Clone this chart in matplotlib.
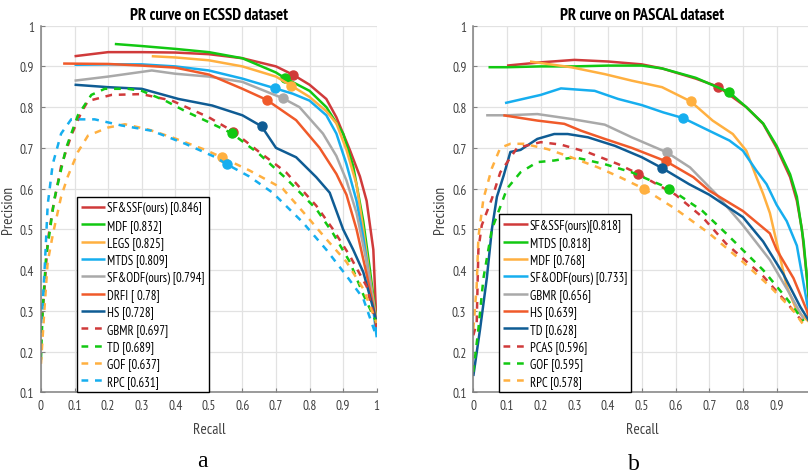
import matplotlib.pyplot as plt
from matplotlib import font_manager

# the figure text is a narrow Arial-like face; use a condensed font if one is installed
fonts = font_manager.fontManager.ttflist
narrow = [f for f in fonts if 'Narrow' in f.name and 'Sans' in f.name]
condensed = [f for f in fonts if f.stretch in ('condensed', 'semi-condensed')
             and 'Mono' not in f.name and 'Serif' not in f.name]
if narrow:
    plt.rcParams['font.family'] = narrow[0].name
    SQUEEZE = True
elif condensed:
    plt.rcParams['font.family'] = condensed[0].name
    plt.rcParams['font.stretch'] = condensed[0].stretch
    SQUEEZE = True
else:
    plt.rcParams['font.family'] = 'Liberation Sans'
    SQUEEZE = False

LEG_FS = 9.2 if SQUEEZE else 7.8
TICK_FS = 9.5 if SQUEEZE else 8.6
TITLE_FS = 12 if SQUEEZE else 9.0
LABEL_FS = 11 if SQUEEZE else 9.6

# colours used by both panels
RED = '#d03a3a'
GREEN = '#12c812'
ORANGE = '#ffb040'
LBLUE = '#16aeef'
GRAY = '#a9a9a9'
ORED = '#f05a2a'
DBLUE = '#0f5c94'

ticks = [0, 0.1, 0.2, 0.3, 0.4, 0.5, 0.6, 0.7, 0.8, 0.9, 1]
tick_labels = ['0', '0.1', '0.2', '0.3', '0.4', '0.5', '0.6', '0.7', '0.8', '0.9', '1']

# ---------------- ECSSD ----------------
e_sfssf_r = [0.10, 0.2, 0.3, 0.4, 0.5, 0.6, 0.7, 0.752, 0.8, 0.85, 0.88, 0.92, 0.95, 0.97, 0.99, 1.0]
e_sfssf_p = [0.925, 0.935, 0.935, 0.934, 0.93, 0.92, 0.9, 0.879, 0.855, 0.82, 0.775, 0.695, 0.63, 0.57, 0.45, 0.255]
e_mdf_r = [0.22, 0.3, 0.4, 0.5, 0.6, 0.7, 0.727, 0.8, 0.85, 0.9, 0.93, 0.96, 0.98, 1.0]
e_mdf_p = [0.955, 0.95, 0.943, 0.935, 0.92, 0.885, 0.871, 0.84, 0.8, 0.735, 0.655, 0.52, 0.4, 0.27]
e_legs_r = [0.33, 0.4, 0.5, 0.6, 0.7, 0.745, 0.8, 0.85, 0.88, 0.91, 0.94, 0.96, 0.98, 1.0]
e_legs_p = [0.925, 0.922, 0.915, 0.9, 0.875, 0.853, 0.825, 0.79, 0.76, 0.695, 0.61, 0.5, 0.38, 0.27]
e_mtds_r = [0.1, 0.2, 0.3, 0.4, 0.5, 0.6, 0.698, 0.75, 0.8, 0.85, 0.88, 0.91, 0.94, 0.96, 0.98, 1.0]
e_mtds_p = [0.904, 0.905, 0.905, 0.9, 0.89, 0.87, 0.846, 0.833, 0.816, 0.78, 0.735, 0.66, 0.57, 0.48, 0.37, 0.235]
e_sfodf_r = [0.1, 0.2, 0.33, 0.4, 0.5, 0.6, 0.72, 0.77, 0.84, 0.88, 0.91, 0.94, 0.97, 1.0]
e_sfodf_p = [0.865, 0.875, 0.89, 0.882, 0.875, 0.862, 0.822, 0.80, 0.735, 0.68, 0.62, 0.54, 0.42, 0.27]
e_drfi_r = [0.066, 0.2, 0.3, 0.4, 0.5, 0.6, 0.672, 0.76, 0.83, 0.88, 0.91, 0.94, 0.97, 1.0]
e_drfi_p = [0.907, 0.906, 0.902, 0.897, 0.88, 0.845, 0.818, 0.768, 0.70, 0.636, 0.585, 0.5, 0.39, 0.27]
e_hs_r = [0.1, 0.2, 0.3, 0.41, 0.51, 0.6, 0.657, 0.7, 0.76, 0.82, 0.86, 0.9, 0.93, 0.96, 0.99, 1.0]
e_hs_p = [0.855, 0.849, 0.845, 0.82, 0.804, 0.78, 0.753, 0.70, 0.677, 0.628, 0.59, 0.50, 0.45, 0.395, 0.305, 0.27]
e_gbmr_r = [0.003, 0.01, 0.02, 0.035, 0.06, 0.09, 0.12, 0.14, 0.21, 0.3, 0.39, 0.5, 0.573, 0.65, 0.73, 0.82, 0.87, 0.92, 0.97, 1.0]
e_gbmr_p = [0.28, 0.35, 0.47, 0.55, 0.655, 0.73, 0.787, 0.815, 0.83, 0.832, 0.816, 0.775, 0.74, 0.69, 0.64, 0.558, 0.50, 0.435, 0.36, 0.26]
e_td_r = [0.0, 0.005, 0.015, 0.04, 0.075, 0.11, 0.15, 0.19, 0.26, 0.3, 0.37, 0.43, 0.5, 0.568, 0.65, 0.73, 0.82, 0.87, 0.92, 0.96, 1.0]
e_td_p = [0.18, 0.30, 0.43, 0.575, 0.70, 0.78, 0.83, 0.845, 0.845, 0.84, 0.816, 0.79, 0.763, 0.736, 0.685, 0.625, 0.55, 0.49, 0.42, 0.34, 0.27]
e_gof_r = [0.0, 0.01, 0.02, 0.036, 0.06, 0.08, 0.11, 0.14, 0.2, 0.25, 0.32, 0.39, 0.49, 0.538, 0.62, 0.72, 0.79, 0.85, 0.91, 0.96, 1.0]
e_gof_p = [0.17, 0.30, 0.42, 0.49, 0.58, 0.63, 0.69, 0.73, 0.75, 0.758, 0.745, 0.726, 0.695, 0.677, 0.645, 0.60, 0.534, 0.476, 0.42, 0.354, 0.27]
e_rpc_r = [0.0, 0.006, 0.012, 0.02, 0.035, 0.06, 0.09, 0.16, 0.24, 0.33, 0.43, 0.52, 0.553, 0.62, 0.69, 0.78, 0.85, 0.91, 0.96, 1.0]
e_rpc_p = [0.27, 0.33, 0.42, 0.56, 0.66, 0.735, 0.77, 0.77, 0.755, 0.742, 0.71, 0.677, 0.66, 0.63, 0.59, 0.517, 0.45, 0.386, 0.33, 0.235]
# F-measure points marked on each curve
e_marks = {
    'sfssf': (0.752, 0.879), 'mdf': (0.727, 0.871), 'legs': (0.745, 0.853),
    'mtds': (0.698, 0.846), 'sfodf': (0.72, 0.822), 'drfi': (0.672, 0.818),
    'hs': (0.657, 0.753), 'gbmr': (0.573, 0.74), 'td': (0.568, 0.736),
    'gof': (0.538, 0.677), 'rpc': (0.553, 0.66),
}

# ---------------- PASCAL ----------------
p_sfssf_r = [0.1, 0.2, 0.3, 0.4, 0.5, 0.56, 0.66, 0.727, 0.81, 0.86, 0.9, 0.94, 0.96, 0.975, 0.99, 1.0]
p_sfssf_p = [0.902, 0.91, 0.916, 0.912, 0.905, 0.895, 0.87, 0.85, 0.80, 0.759, 0.70, 0.628, 0.57, 0.50, 0.38, 0.28]
p_mtds_r = [0.045, 0.1, 0.2, 0.3, 0.4, 0.5, 0.56, 0.66, 0.76, 0.81, 0.86, 0.9, 0.94, 0.96, 0.98, 1.0]
p_mtds_p = [0.898, 0.898, 0.90, 0.90, 0.902, 0.902, 0.895, 0.872, 0.836, 0.80, 0.76, 0.705, 0.635, 0.58, 0.47, 0.29]
p_mdf_r = [0.168, 0.29, 0.39, 0.47, 0.56, 0.645, 0.71, 0.77, 0.81, 0.84, 0.86, 0.88, 0.905, 0.93, 0.96, 1.0]
p_mdf_p = [0.912, 0.898, 0.881, 0.865, 0.849, 0.814, 0.767, 0.734, 0.693, 0.628, 0.587, 0.54, 0.45, 0.36, 0.30, 0.27]
p_sfodf_r = [0.094, 0.2, 0.26, 0.36, 0.43, 0.5, 0.564, 0.623, 0.70, 0.76, 0.80, 0.84, 0.87, 0.90, 0.93, 0.96, 0.99, 1.0]
p_sfodf_p = [0.81, 0.83, 0.846, 0.84, 0.82, 0.805, 0.787, 0.773, 0.742, 0.718, 0.693, 0.644, 0.611, 0.56, 0.52, 0.46, 0.32, 0.28]
p_gbmr_r = [0.038, 0.1, 0.19, 0.29, 0.39, 0.47, 0.574, 0.643, 0.72, 0.8, 0.88, 0.94, 0.98]
p_gbmr_p = [0.78, 0.78, 0.783, 0.771, 0.757, 0.726, 0.689, 0.652, 0.587, 0.51, 0.425, 0.34, 0.28]
p_hs_r = [0.089, 0.19, 0.27, 0.32, 0.39, 0.47, 0.572, 0.653, 0.70, 0.8, 0.88, 0.9, 0.95, 0.99, 1.0]
p_hs_p = [0.78, 0.767, 0.759, 0.742, 0.722, 0.70, 0.667, 0.628, 0.595, 0.545, 0.49, 0.45, 0.38, 0.30, 0.27]
p_td_r = [0.0, 0.02, 0.04, 0.055, 0.07, 0.09, 0.11, 0.14, 0.19, 0.24, 0.28, 0.34, 0.42, 0.5, 0.561, 0.64, 0.70, 0.8, 0.86, 0.92, 0.97, 1.0]
p_td_p = [0.14, 0.255, 0.38, 0.50, 0.58, 0.632, 0.69, 0.695, 0.722, 0.734, 0.734, 0.726, 0.705, 0.677, 0.65, 0.611, 0.585, 0.53, 0.47, 0.39, 0.31, 0.27]
p_pcas_r = [0.0, 0.01, 0.015, 0.025, 0.055, 0.08, 0.13, 0.2, 0.26, 0.34, 0.43, 0.49, 0.6, 0.68, 0.75, 0.86, 0.93, 0.98]
p_pcas_p = [0.24, 0.27, 0.45, 0.51, 0.575, 0.64, 0.70, 0.714, 0.708, 0.689, 0.66, 0.636, 0.585, 0.53, 0.465, 0.385, 0.32, 0.27]
p_gof_r = [0.0, 0.015, 0.03, 0.055, 0.074, 0.1, 0.14, 0.19, 0.24, 0.3, 0.39, 0.47, 0.582, 0.68, 0.75, 0.86, 0.93, 0.98]
p_gof_p = [0.15, 0.255, 0.38, 0.50, 0.542, 0.60, 0.64, 0.665, 0.669, 0.677, 0.66, 0.64, 0.60, 0.545, 0.49, 0.40, 0.33, 0.275]
p_rpc_r = [0.0, 0.01, 0.015, 0.03, 0.055, 0.08, 0.11, 0.15, 0.22, 0.29, 0.37, 0.435, 0.505, 0.6, 0.7, 0.8, 0.88, 0.95, 0.98]
p_rpc_p = [0.255, 0.36, 0.48, 0.575, 0.65, 0.70, 0.71, 0.71, 0.697, 0.677, 0.652, 0.628, 0.60, 0.55, 0.49, 0.42, 0.36, 0.30, 0.265]
p_marks = {
    'sfssf': (0.727, 0.85), 'mtds': (0.76, 0.836), 'mdf': (0.645, 0.814),
    'sfodf': (0.623, 0.773), 'gbmr': (0.574, 0.689), 'hs': (0.572, 0.667),
    'td': (0.561, 0.65), 'pcas': (0.49, 0.636), 'gof': (0.582, 0.60),
    'rpc': (0.505, 0.60),
}

ecssd = [
    ('SF&SSF(ours) [0.846]', RED, '-', e_sfssf_r, e_sfssf_p, e_marks['sfssf']),
    ('MDF [0.832]', GREEN, '-', e_mdf_r, e_mdf_p, e_marks['mdf']),
    ('LEGS [0.825]', ORANGE, '-', e_legs_r, e_legs_p, e_marks['legs']),
    ('MTDS [0.809]', LBLUE, '-', e_mtds_r, e_mtds_p, e_marks['mtds']),
    ('SF&ODF(ours) [0.794]', GRAY, '-', e_sfodf_r, e_sfodf_p, e_marks['sfodf']),
    ('DRFI [ 0.78]', ORED, '-', e_drfi_r, e_drfi_p, e_marks['drfi']),
    ('HS [0.728]', DBLUE, '-', e_hs_r, e_hs_p, e_marks['hs']),
    ('GBMR [0.697]', RED, '--', e_gbmr_r, e_gbmr_p, e_marks['gbmr']),
    ('TD [0.689]', GREEN, '--', e_td_r, e_td_p, e_marks['td']),
    ('GOF [0.637]', ORANGE, '--', e_gof_r, e_gof_p, e_marks['gof']),
    ('RPC [0.631]', LBLUE, '--', e_rpc_r, e_rpc_p, e_marks['rpc']),
]
pascal = [
    ('SF&SSF(ours)[0.818]', RED, '-', p_sfssf_r, p_sfssf_p, p_marks['sfssf']),
    ('MTDS [0.818]', GREEN, '-', p_mtds_r, p_mtds_p, p_marks['mtds']),
    ('MDF [0.768]', ORANGE, '-', p_mdf_r, p_mdf_p, p_marks['mdf']),
    ('SF&ODF(ours) [0.733]', LBLUE, '-', p_sfodf_r, p_sfodf_p, p_marks['sfodf']),
    ('GBMR [0.656]', GRAY, '-', p_gbmr_r, p_gbmr_p, p_marks['gbmr']),
    ('HS [0.639]', ORED, '-', p_hs_r, p_hs_p, p_marks['hs']),
    ('TD [0.628]', DBLUE, '-', p_td_r, p_td_p, p_marks['td']),
    ('PCAS [0.596]', RED, '--', p_pcas_r, p_pcas_p, p_marks['pcas']),
    ('GOF [0.595]', GREEN, '--', p_gof_r, p_gof_p, p_marks['gof']),
    ('RPC [0.578]', ORANGE, '--', p_rpc_r, p_rpc_p, p_marks['rpc']),
]


def draw(ax, curves, title, leg_x, ylab_x):
    for label, color, ls, r, p, mk in curves:
        line, = ax.plot(r, p, color=color, lw=1.8, label=label, solid_capstyle='butt')
        if ls == '--':
            line.set_dashes([2.7, 2.7])
        ax.plot([mk[0]], [mk[1]], 'o', color=color, ms=6.5, mec=color)
    ax.set_xlim(0, 1)
    ax.set_ylim(0.1, 1)
    ax.set_xticks(ticks)
    ax.set_xticklabels(tick_labels)
    ax.set_yticks(ticks[1:])
    ax.set_yticklabels(tick_labels[1:])
    ax.grid(color='#e2e2e2', lw=0.9)
    ax.set_axisbelow(True)
    for s in ['top', 'right']:
        ax.spines[s].set_visible(False)
    for s in ['left', 'bottom']:
        ax.spines[s].set_color('#808080')
        ax.spines[s].set_linewidth(1.1)
    ax.tick_params(direction='in', length=3, color='#808080', labelcolor='#404040',
                   labelsize=TICK_FS, pad=5)
    ax.set_title(title, fontsize=TITLE_FS, fontweight='bold', pad=5)
    ax.set_xlabel('Recall', fontsize=LABEL_FS, color='#404040', labelpad=7)
    ax.set_ylabel('Precision', fontsize=LABEL_FS, color='#404040')
    ax.yaxis.set_label_coords(ylab_x, 0.5)
    leg = ax.legend(loc='lower left', bbox_to_anchor=(leg_x, 0), fancybox=False,
                    edgecolor='black', framealpha=1, fontsize=LEG_FS, handlelength=1.9,
                    handletextpad=0.15, labelspacing=0.34, borderpad=0.35,
                    borderaxespad=0)
    leg.get_frame().set_linewidth(1.0)


fig = plt.figure(figsize=(8.08, 4.77), dpi=100)
ax1 = fig.add_axes([0.0507, 0.1755, 0.4155, 0.7686])
ax2 = fig.add_axes([0.5858, 0.1755, 0.4171, 0.7686])

draw(ax1, ecssd, 'PR curve on ECSSD dataset', 0.106, -0.078)
draw(ax2, pascal, 'PR curve on PASCAL dataset', 0.076, -0.077)

fig.text(202 / 808, 1 - 462 / 477, 'a', family='Liberation Serif', fontsize=17,
         ha='center', va='center')
fig.text(634 / 808, 1 - 465 / 477, 'b', family='Liberation Serif', fontsize=17,
         ha='center', va='center')

fig.savefig('out.png', dpi=100)
